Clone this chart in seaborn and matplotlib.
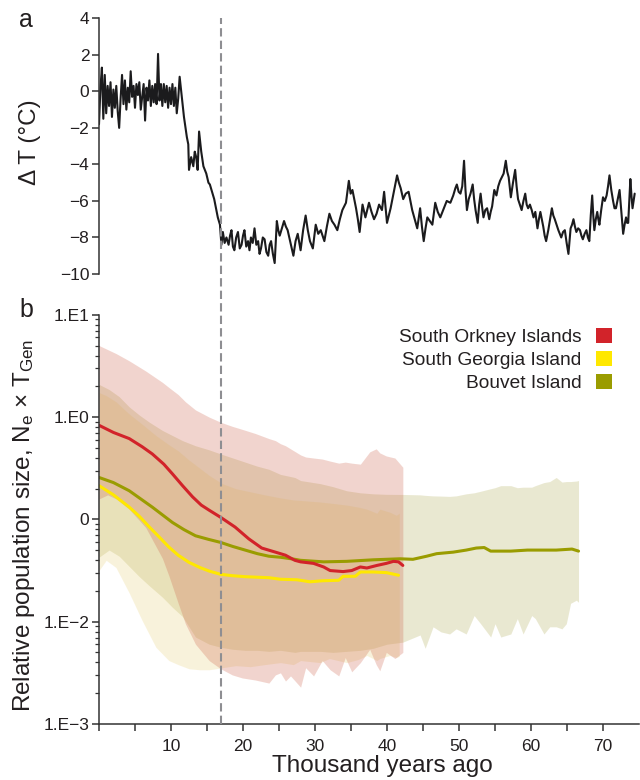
import numpy as np
import matplotlib
matplotlib.use("Agg")
import matplotlib.pyplot as plt
import seaborn as sns
from matplotlib.patches import Patch
from matplotlib.lines import Line2D
from matplotlib.transforms import blended_transform_factory
from matplotlib.ticker import FixedLocator, LogLocator, NullFormatter

# ---------------- data ----------------
# Panel a: temperature anomaly (deg C) vs age (kyr ago)
temp_age = [
    0.0, 0.2, 0.4, 0.6, 0.8, 1.0, 1.2, 1.4, 1.6, 1.8,
    2.0, 2.2, 2.4, 2.6, 2.8, 3.0, 3.2, 3.4, 3.6, 3.8,
    4.0, 4.2, 4.4, 4.6, 4.8, 5.0, 5.2, 5.4, 5.6, 5.8,
    6.0, 6.2, 6.4, 6.6, 6.8, 7.0, 7.2, 7.4, 7.6, 7.8,
    8.0, 8.2, 8.4, 8.6, 8.8, 9.0, 9.2, 9.4, 9.6, 9.8,
    10.0, 10.2, 10.4, 10.6, 10.8, 11.0, 11.2, 11.5, 11.8, 12.2,
    12.4, 12.5, 12.8, 13.1, 13.3, 13.5, 13.7, 13.9, 14.2, 14.5,
    14.9, 15.2, 15.4, 15.7, 16.0, 16.3, 16.5, 16.8, 17.0, 17.2,
    17.45, 17.7, 18.0, 18.2, 18.4, 18.6, 18.8, 19.05, 19.3, 19.55,
    19.8, 20.0, 20.2, 20.45, 20.7, 20.9, 21.1, 21.35, 21.6, 21.85,
    22.1, 22.3, 22.5, 22.75, 23.0, 23.25, 23.5, 23.7, 23.9, 24.15,
    24.4, 24.7, 24.9, 25.1, 25.4, 25.7, 25.95, 26.2, 26.6, 27.0,
    27.3, 27.6, 28.0, 28.35, 28.7, 29.0, 29.3, 29.7, 30.1, 30.45,
    30.8, 31.3, 31.65, 32.0, 32.35, 32.7, 33.1, 33.45, 33.8, 34.3,
    34.7, 34.95, 35.2, 35.45, 35.7, 35.95, 36.2, 36.6, 37.0, 37.5,
    37.85, 38.2, 38.55, 38.9, 39.3, 39.6, 40.0, 40.25, 40.5, 40.75,
    41.0, 41.4, 41.65, 41.9, 42.25, 42.6, 43.0, 43.25, 43.5, 43.85,
    44.2, 44.6, 44.85, 45.1, 45.35, 45.6, 45.95, 46.3, 46.7, 47.05,
    47.4, 47.9, 48.3, 48.8, 49.2, 49.5, 49.7, 49.95, 50.2, 50.45,
    50.7, 50.9, 51.1, 51.35, 51.6, 51.9, 52.1, 52.3, 52.6, 52.8,
    53.0, 53.2, 53.4, 53.65, 53.9, 54.2, 54.4, 54.6, 54.9, 55.2,
    55.45, 55.7, 55.95, 56.2, 56.5, 56.7, 56.9, 57.2, 57.5, 57.8,
    58.0, 58.2, 58.45, 58.7, 58.95, 59.2, 59.4, 59.6, 59.85, 60.1,
    60.35, 60.6, 60.9, 61.1, 61.3, 61.5, 61.7, 61.9, 62.1, 62.4,
    62.65, 62.9, 63.1, 63.3, 63.55, 63.8, 64.0, 64.2, 64.45, 64.7,
    64.95, 65.2, 65.5, 65.7, 65.9, 66.1, 66.3, 66.55, 66.8, 67.0,
    67.2, 67.45, 67.7, 67.9, 68.1, 68.3, 68.5, 68.65, 68.8, 69.0,
    69.2, 69.35, 69.5, 69.75, 70.0, 70.25, 70.5, 70.7, 70.9, 71.15,
    71.4, 71.6, 71.8, 72.05, 72.3, 72.55, 72.8, 73.0, 73.2, 73.35,
    73.5, 73.65, 73.8, 73.95, 74.1, 74.25, 74.4,
]
temp_dT = [
    -1.8, 0.2, 1.3, -1.5, 0.9, -1.2, 0.3, -0.8, 0.5, -1.4,
    0.1, -0.9, 0.3, -1.1, -2.0, -0.4, 0.9, -0.7, 0.6, -1.0,
    0.2, -0.6, 1.1, -0.3, 0.3, -0.9, 0.4, -0.2, 0.5, -1.0,
    -0.3, 0.4, -1.6, 0.2, -0.5, 0.6, -0.8, 0.3, -0.6, 0.4,
    -0.7, 2.05, -0.5, 0.4, -0.8, 0.4, -0.6, 0.3, -0.9, 0.2,
    -0.7, 0.4, -0.8, 0.2, -1.2, -0.4, 0.8, -0.3, -1.4, -2.5,
    -2.9, -4.3, -3.6, -4.1, -3.3, -3.6, -4.3, -2.2, -3.3, -4.1,
    -4.5, -5.0, -5.1, -5.5, -5.9, -6.5, -6.9, -7.3, -8.4, -7.7,
    -8.3, -8.0, -8.4, -7.9, -7.6, -8.5, -8.7, -8.0, -7.7, -8.6,
    -8.4, -7.9, -7.6, -8.5, -8.2, -8.7, -8.0, -8.3, -7.5, -8.4,
    -8.2, -8.9, -8.6, -8.0, -8.1, -8.8, -9.0, -8.4, -8.2, -8.9,
    -9.4, -7.1, -7.6, -7.9, -7.5, -7.1, -7.4, -7.6, -8.3, -9.0,
    -8.2, -7.8, -8.7, -7.6, -6.8, -7.6, -8.2, -8.6, -7.3, -7.8,
    -7.6, -8.2, -7.4, -6.7, -7.1, -7.3, -7.6, -7.0, -6.5, -6.1,
    -4.9, -5.6, -5.4, -5.9, -6.4, -7.0, -7.7, -6.2, -6.9, -6.1,
    -6.6, -7.0, -6.7, -6.2, -6.5, -5.5, -7.2, -6.8, -6.4, -5.9,
    -5.4, -4.6, -5.0, -5.3, -5.9, -5.6, -5.5, -6.0, -6.5, -7.0,
    -7.5, -6.4, -7.4, -8.2, -7.5, -6.9, -7.1, -7.3, -6.1, -6.6,
    -6.9, -6.4, -6.0, -6.1, -5.7, -5.3, -5.1, -5.5, -5.6, -5.2,
    -3.8, -5.4, -6.5, -5.9, -5.6, -5.1, -5.9, -6.5, -7.2, -6.2,
    -5.6, -6.3, -6.9, -6.5, -6.4, -7.0, -6.6, -6.3, -5.4, -5.7,
    -5.2, -4.9, -4.7, -4.5, -3.8, -4.4, -4.7, -5.8, -5.0, -4.3,
    -5.2, -5.9, -6.2, -6.5, -6.0, -5.6, -6.2, -6.4, -6.2, -6.5,
    -6.9, -6.6, -7.5, -7.0, -6.6, -7.0, -7.4, -7.9, -8.2, -7.6,
    -7.0, -6.4, -6.8, -7.0, -7.3, -7.6, -7.8, -8.0, -7.7, -7.6,
    -8.3, -8.9, -7.5, -7.3, -7.0, -7.4, -7.7, -7.5, -7.6, -7.9,
    -8.1, -7.8, -7.6, -8.0, -8.2, -6.8, -5.7, -6.8, -7.6, -7.0,
    -6.6, -7.0, -7.3, -6.5, -5.8, -6.0, -5.7, -5.2, -4.6, -5.4,
    -6.0, -6.4, -6.4, -5.9, -5.4, -6.6, -7.8, -7.3, -6.9, -7.2,
    -7.2, -6.0, -4.8, -5.7, -6.4, -6.0, -5.6,
]

# Vertical dashed marker (kyr ago)
marker_age = 16.9

# Panel b: relative population size, stored as decimal exponents (log10)
red_age = [0.0, 2.0, 4.2, 6.0, 7.4, 9.0, 10.2, 11.6, 13.0, 14.2, 15.3, 16.9, 18.9,
           20.8, 22.6, 24.5, 25.9, 27.2, 28.0, 29.8, 31.2, 32.1, 33.9, 35.1, 36.3,
           37.2, 38.6, 39.9, 40.9, 41.6, 42.2]
red_exp = [-0.08, -0.15, -0.21, -0.29, -0.36, -0.46, -0.555, -0.67, -0.78, -0.86,
           -0.91, -0.98, -1.075, -1.19, -1.28, -1.32, -1.35, -1.40, -1.415, -1.43,
           -1.465, -1.50, -1.51, -1.50, -1.465, -1.475, -1.45, -1.43, -1.41, -1.415,
           -1.45]

yellow_age = [0.0, 2.0, 4.2, 5.6, 7.0, 8.4, 9.7, 11.0, 12.5, 14.0, 15.3, 16.9, 18.5,
              20.3, 23.6, 25.2, 27.5, 29.3, 31.0, 33.3, 33.9, 35.6, 36.3, 38.1, 39.9,
              41.6]
yellow_exp = [-0.67, -0.76, -0.88, -0.97, -1.075, -1.175, -1.27, -1.35, -1.42, -1.47,
              -1.505, -1.537, -1.55, -1.56, -1.57, -1.585, -1.59, -1.61, -1.60, -1.595,
              -1.556, -1.556, -1.514, -1.514, -1.52, -1.546]

green_age = [0.0, 2.0, 4.2, 5.8, 7.4, 8.8, 10.2, 11.8, 13.4, 15.2, 16.9, 18.6, 20.3,
             22.0, 23.6, 25.2, 27.2, 28.0, 31.2, 34.4, 38.1, 41.8, 43.6, 45.5, 46.9,
             49.2, 51.0, 52.4, 53.5, 54.4, 57.2, 59.5, 63.5, 65.7, 66.6]
green_exp = [-0.59, -0.64, -0.72, -0.80, -0.88, -0.955, -1.03, -1.10, -1.16, -1.195,
             -1.225, -1.265, -1.30, -1.335, -1.36, -1.37, -1.39, -1.40, -1.415, -1.41,
             -1.395, -1.385, -1.39, -1.36, -1.335, -1.32, -1.30, -1.28, -1.275, -1.31,
             -1.31, -1.30, -1.30, -1.29, -1.31]

# Confidence bands (log10 of upper / lower bound)
red_band_age = [0.0, 1.2, 2.4, 4.2, 6.5, 8.8, 9.7, 11.0, 12.0, 13.4, 15.3, 16.9, 18.5,
                19.9, 21.7, 23.6, 24.5, 25.2, 25.9, 26.6, 28.0, 28.7, 29.8, 31.0, 32.1,
                33.3, 34.2, 35.1, 36.3, 37.6, 38.5, 39.0, 39.9, 41.1, 42.2]
red_hi_exp = [0.70, 0.66, 0.62, 0.55, 0.45, 0.34, 0.29, 0.22, 0.15, 0.07, 0.00, -0.05,
              -0.09, -0.12, -0.16, -0.21, -0.23, -0.26, -0.28, -0.31, -0.37, -0.39,
              -0.40, -0.41, -0.43, -0.45, -0.44, -0.45, -0.46, -0.34, -0.31, -0.35,
              -0.38, -0.40, -0.49]
red_lo_exp = [-0.80, -0.76, -0.80, -0.90, -1.08, -1.38, -1.55, -1.82, -2.02, -2.22,
              -2.38, -2.46, -2.52, -2.55, -2.57, -2.60, -2.52, -2.50, -2.58, -2.53,
              -2.64, -2.45, -2.53, -2.38, -2.47, -2.53, -2.35, -2.49, -2.40, -2.27,
              -2.42, -2.48, -2.30, -2.36, -2.30]

yellow_band_age = [0.0, 1.0, 2.35, 4.2, 6.0, 7.9, 9.7, 11.0, 12.5, 14.0, 15.3, 17.1,
                   19.0, 21.0, 23.0, 25.2, 27.0, 28.0, 30.7, 32.0, 34.4, 36.0, 37.2,
                   38.6, 39.0, 40.4, 41.3, 41.7]
yellow_hi_exp = [0.24, 0.21, 0.15, 0.03, -0.07, -0.18, -0.27, -0.33, -0.42, -0.50,
                 -0.57, -0.65, -0.70, -0.73, -0.76, -0.79, -0.81, -0.815, -0.83, -0.84,
                 -0.86, -0.88, -0.90, -0.94, -0.90, -0.93, -0.96, -0.94]
yellow_lo_exp = [-1.50, -1.40, -1.47, -1.72, -1.99, -2.25, -2.38, -2.42, -2.46, -2.47,
                 -2.47, -2.45, -2.43, -2.44, -2.42, -2.40, -2.42, -2.38, -2.40, -2.36,
                 -2.40, -2.37, -2.33, -2.38, -2.36, -2.33, -2.35, -2.34]

green_band_age = [0.0, 1.4, 2.8, 4.2, 5.6, 7.0, 8.8, 10.2, 11.6, 13.4, 15.3, 16.9, 18.6,
                  20.3, 22.0, 23.6, 25.2, 27.2, 28.0, 30.7, 32.5, 34.4, 36.3, 38.1, 40.0,
                  42.2, 44.6, 45.3, 46.4, 47.5, 48.7, 49.6, 51.0, 52.1, 53.0, 54.4, 55.0,
                  55.8, 57.2, 58.1, 58.9, 60.1, 60.6, 61.8, 62.6, 63.5, 64.3, 64.9, 65.5,
                  66.3, 66.6]
green_hi_exp = [0.32, 0.27, 0.20, 0.10, 0.02, -0.05, -0.13, -0.18, -0.23, -0.28, -0.32,
                -0.36, -0.40, -0.44, -0.48, -0.51, -0.56, -0.59, -0.62, -0.65, -0.68,
                -0.72, -0.74, -0.75, -0.755, -0.756, -0.76, -0.765, -0.77, -0.772,
                -0.775, -0.77, -0.75, -0.74, -0.725, -0.70, -0.69, -0.67, -0.67, -0.69,
                -0.685, -0.685, -0.67, -0.64, -0.63, -0.59, -0.635, -0.63, -0.63,
                -0.625, -0.62]
green_lo_exp = [-1.37, -1.30, -1.36, -1.46, -1.56, -1.65, -1.76, -1.86, -1.95, -2.15,
                -2.22, -2.25, -2.27, -2.28, -2.28, -2.29, -2.28, -2.30, -2.29, -2.29,
                -2.30, -2.29, -2.28, -2.26, -2.22, -2.20, -2.13, -2.26, -2.05, -2.10,
                -2.12, -2.07, -2.12, -1.94, -2.02, -2.15, -2.02, -2.15, -2.12, -1.97,
                -2.12, -1.94, -1.97, -2.12, -2.05, -2.05, -2.07, -2.02, -1.82, -1.79,
                -1.81]

series_names = ["South Orkney Islands", "South Georgia Island", "Bouvet Island"]
line_colors = ["#D2232A", "#FFE800", "#9A9C00"]
band_colors = ["#CB573F", "#E7CF73", "#ABA74B"]

temp_yticks = [-10, -8, -6, -4, -2, 0, 2, 4]
temp_yticklabels = ["\u221210", "\u22128", "\u22126", "\u22124", "\u22122", "0", "2", "4"]
pop_yticks = [1e-3, 1e-2, 1e-1, 1e0, 1e1]
pop_yticklabels = ["1.E\u22123", "1.E\u22122", "0", "1.E0", "1.E1"]
age_ticks = [0, 10, 20, 30, 40, 50, 60, 70]
age_ticklabels = ["", "10", "20", "30", "40", "50", "60", "70"]
age_minor_ticks = [5, 15, 25, 35, 45, 55, 65]

# ---------------- style ----------------
sns.set_theme(style="ticks")
plt.rcParams["font.family"] = ["Liberation Sans", "DejaVu Sans"]
plt.rcParams["mathtext.fontset"] = "custom"
plt.rcParams["mathtext.rm"] = "Liberation Sans"
plt.rcParams["mathtext.it"] = "Liberation Sans:italic"
plt.rcParams["axes.unicode_minus"] = True
TXT = "#231F20"
SPINE = "#333333"

fig = plt.figure(figsize=(6.4, 7.8), dpi=100)
fig.patch.set_facecolor("white")
L, W = 99 / 640, 540 / 640
ax1 = fig.add_axes([L, 1 - 274 / 780, W, (274 - 18.3) / 780])
ax2 = fig.add_axes([L, 1 - 724 / 780, W, (724 - 314.8) / 780])

# ---------------- panel a ----------------
sns.lineplot(x=temp_age, y=temp_dT, ax=ax1, color="#1B1B1D", lw=1.5,
             estimator=None, sort=False)
ax1.set_xlim(0, 75)
ax1.set_ylim(-10, 4)
ax1.set_yticks(temp_yticks)
ax1.set_yticklabels(temp_yticklabels)
for s in ["top", "right", "bottom"]:
    ax1.spines[s].set_visible(False)
ax1.tick_params(axis="x", bottom=False, labelbottom=False)
ax1.tick_params(axis="y", direction="out", length=5, width=1.1, color=SPINE,
                labelsize=12.5, labelcolor=TXT, pad=2)
ax1.spines["left"].set_color(SPINE)
ax1.spines["left"].set_linewidth(1.1)
ax1.set_ylabel("\u0394 T (\u00b0C)", fontsize=17.5, color=TXT)
ax1.yaxis.set_label_coords(-0.107, 0.514)
ax1.set_facecolor("none")

# ---------------- panel b ----------------
ax2.set_yscale("log")
bands = [
    (green_band_age, green_hi_exp, green_lo_exp, band_colors[2]),
    (yellow_band_age, yellow_hi_exp, yellow_lo_exp, band_colors[1]),
    (red_band_age, red_hi_exp, red_lo_exp, band_colors[0]),
]
for ages, hi, lo, col in bands:
    ax2.fill_between(ages, 10 ** np.asarray(lo), 10 ** np.asarray(hi),
                     color=col, alpha=0.25, lw=0)

lines = [
    (green_age, green_exp, line_colors[2]),
    (yellow_age, yellow_exp, line_colors[1]),
    (red_age, red_exp, line_colors[0]),
]
for ages, ex, col in lines:
    sns.lineplot(x=ages, y=10 ** np.asarray(ex), ax=ax2, color=col, lw=2.2,
                 estimator=None, sort=False)

ax2.set_xlim(0, 75)
ax2.set_ylim(1e-3, 1e1)
ax2.yaxis.set_major_locator(FixedLocator(pop_yticks))
ax2.set_yticklabels(pop_yticklabels)
ax2.yaxis.set_minor_locator(LogLocator(base=10, subs=range(2, 10), numticks=20))
ax2.yaxis.set_minor_formatter(NullFormatter())
ax2.set_xticks(age_ticks)
ax2.set_xticklabels(age_ticklabels)
ax2.set_xticks(age_minor_ticks, minor=True)
for s in ["top", "right"]:
    ax2.spines[s].set_visible(False)
for s in ["left", "bottom"]:
    ax2.spines[s].set_color(SPINE)
    ax2.spines[s].set_linewidth(1.1)
ax2.tick_params(axis="both", which="major", direction="out", length=5, width=1.1,
                color=SPINE, labelsize=12.5, labelcolor=TXT, pad=2)
ax2.tick_params(axis="y", which="minor", direction="out", length=3, width=0.9,
                color=SPINE)
ax2.tick_params(axis="x", which="minor", direction="out", length=5, width=1.1,
                color=SPINE)
ax2.tick_params(axis="x", which="major", pad=6)
ax2.set_ylabel("Relative population size, N$_{\\mathrm{e}}$ \u00d7 T$_{\\mathrm{Gen}}$",
               fontsize=17.5, color=TXT)
ax2.yaxis.set_label_coords(-0.115, 0.486)
ax2.set_xlabel("Thousand years ago", fontsize=17.5, color=TXT, va="top")
ax2.xaxis.set_label_coords(0.524, -0.0758)
ax2.set_facecolor("none")

handles = [Patch(facecolor=c, edgecolor="none", label=n)
           for c, n in zip(line_colors, series_names)]
leg = ax2.legend(handles=handles, loc="upper right", bbox_to_anchor=(0.95, 0.968),
                 frameon=False, markerfirst=False, fontsize=13.8,
                 handlelength=0.84, handleheight=0.8, handletextpad=0.75,
                 labelspacing=0.27, borderpad=0, borderaxespad=0)
for t in leg.get_texts():
    t.set_color(TXT)

# dashed vertical marker spanning both panels
trans = blended_transform_factory(ax2.transData, fig.transFigure)
fig.add_artist(Line2D([marker_age, marker_age], [1 - 724 / 780, 1 - 18.3 / 780],
                      transform=trans, color="#8E8E92", lw=1.5,
                      linestyle=(0, (4, 2))))

fig.text(19 / 640, 1 - 27 / 780, "a", fontsize=18, color=TXT, va="baseline")
fig.text(19 / 640, 1 - 317 / 780, "b", fontsize=18, color=TXT, va="baseline")

fig.savefig("out.png", dpi=100, facecolor="white")
